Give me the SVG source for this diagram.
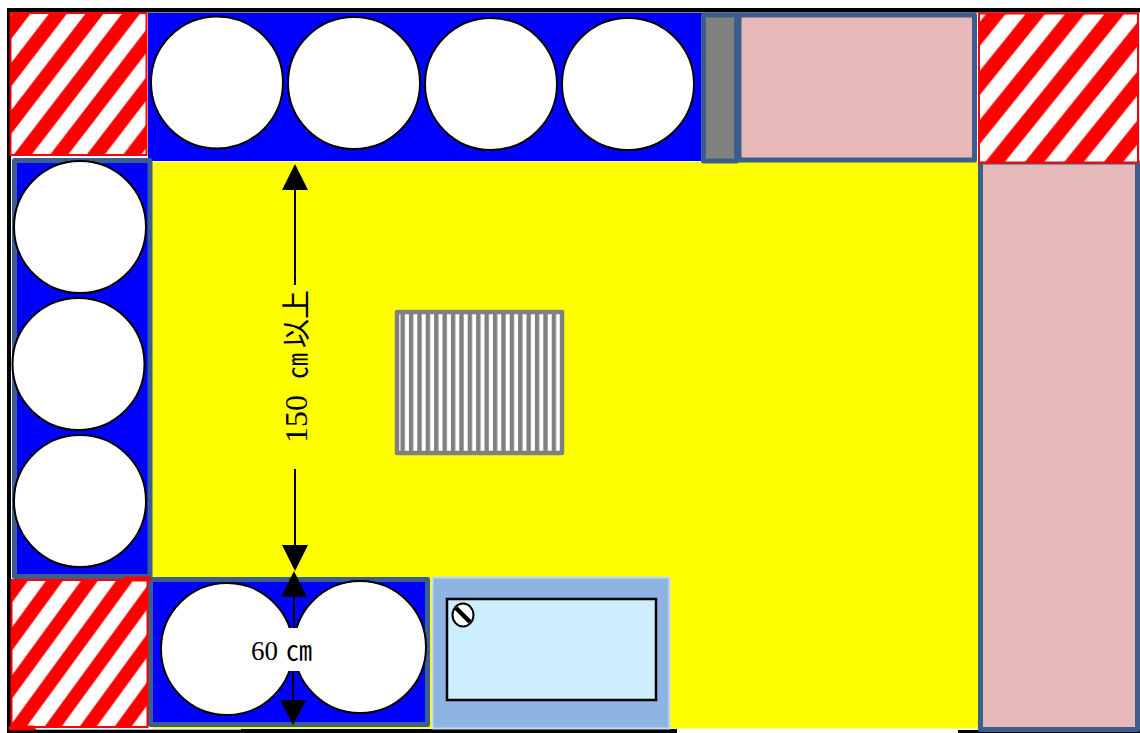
<svg xmlns="http://www.w3.org/2000/svg" width="1140" height="733" viewBox="0 0 1140 733">
<style>
.panel{stroke:#3b5e8c;stroke-width:5;stroke-linejoin:round}
.seat{fill:#fff;stroke:#000;stroke-width:2}
.hatch{stroke:#f00;stroke-width:2}
.dim{stroke:#000;stroke-width:2;fill:none}
.tip{fill:#000}
.lbl{font-family:"Liberation Serif","Noto Sans CJK JP",serif;fill:#000}
</style>
<defs>
<pattern id="h1" patternUnits="userSpaceOnUse" width="36.5" height="47.5"><rect width="36.5" height="47.5" fill="#f00"/><path d="M0 47.5L36.5 0H18L-18.500 47.5ZM36.5 47.5L73 0H54.500L18 47.5Z" fill="#fff"/></pattern>
<pattern id="h2" patternUnits="userSpaceOnUse" width="39.5" height="49"><rect width="39.5" height="49" fill="#f00"/><path d="M0 49L39.5 0H19.500L-20 49ZM39.5 49L79 0H59L19.500 49Z" fill="#fff"/></pattern>
<pattern id="h3" patternUnits="userSpaceOnUse" width="35" height="48"><rect width="35" height="48" fill="#f00"/><path d="M0 48L35 0H17L-18 48ZM35 48L70 0H52L17 48Z" fill="#fff"/></pattern>
<pattern id="gr" patternUnits="userSpaceOnUse" x="400.5" y="311" width="8.4" height="20"><rect width="8.4" height="20" fill="#fff"/><rect x="0" width="4.400" height="20" fill="#808080"/></pattern>
</defs>
<rect id="page" width="1140" height="733" fill="#fff"/>
<g id="walls">
<rect x="7" y="8" width="1133" height="4.500" fill="#000"/>
<rect x="7" y="8" width="4" height="725" fill="#000"/>
<rect x="7" y="729" width="670" height="4" fill="#000"/>
<rect x="958" y="730" width="182" height="3" fill="#000"/>
<rect x="36" y="728.500" width="205" height="1.200" fill="#fff"/>
</g>
<g id="floor"><rect x="152" y="162" width="826" height="566.500" fill="#ff0"/></g>
<g id="top-bench">
<rect x="148" y="13" width="554" height="148" fill="#00f"/>
<circle class="seat" cx="217" cy="82.500" r="66"/>
<circle class="seat" cx="354" cy="83" r="66"/>
<circle class="seat" cx="491" cy="84" r="66"/>
<circle class="seat" cx="628" cy="84" r="66"/>
</g>
<g id="left-bench">
<rect class="panel" x="14.500" y="160.500" width="135.500" height="416" fill="#00f"/>
<circle class="seat" cx="80" cy="227" r="66"/>
<circle class="seat" cx="78.500" cy="364" r="66"/>
<circle class="seat" cx="80" cy="501" r="66"/>
</g>
<g id="bottom-bench">
<rect class="panel" x="150.500" y="579.500" width="277" height="145" fill="#00f"/>
<circle class="seat" cx="227" cy="649" r="66"/>
<circle class="seat" cx="360" cy="647" r="66"/>
</g>
<g id="cupboard"><rect class="panel" x="703.500" y="15" width="33" height="146" fill="#808080"/></g>
<g id="top-counter"><rect class="panel" x="739" y="15" width="235.500" height="145" fill="#e6b8b7"/></g>
<g id="right-counter"><rect class="panel" x="980.500" y="162" width="157" height="567.500" fill="#e6b8b7"/></g>
<g id="sink">
<rect x="432.500" y="577.500" width="237" height="151" fill="#8eb4e3" stroke="#c6d9f1" stroke-width="2"/>
<rect x="447" y="599" width="209" height="101" fill="#cceeff" stroke="#000" stroke-width="2.500"/>
<ellipse cx="463" cy="615" rx="10.500" ry="11.500" fill="#fff" stroke="#000" stroke-width="2"/>
<path d="M456 608L470 622" stroke="#000" stroke-width="4.500"/>
</g>
<g id="drain"><rect x="397" y="312" width="165" height="141" fill="url(#gr)" stroke="#808080" stroke-width="4.500" stroke-linejoin="round"/></g>
<g id="hatch-top-left"><rect class="hatch" x="-2.500" y="0" width="136" height="142" transform="translate(13 13)" fill="url(#h1)"/></g>
<g id="hatch-top-right"><rect class="hatch" x="-7.500" y="0" width="159" height="149" transform="translate(986.500 13.500)" fill="url(#h2)"/></g>
<g id="hatch-bottom-left">
<rect class="hatch" x="0" y="0" width="136" height="147" transform="translate(11.500 580)" fill="url(#h3)"/>
<path d="M125 579H149M11 728H33" stroke="#f00" stroke-width="5" stroke-linecap="round"/>
</g>
<g id="connectors">
<path class="dim" d="M295 188V285M295 469V547"/>
<path class="tip" d="M295 164L282 190H308ZM295 571L282 545H308Z"/>
<path class="dim" d="M294 595V628M293 671V702"/>
<path class="tip" d="M294 571L281 597H307ZM293 725L280 700H306Z"/>
</g>
<g id="labels">
<rect x="250" y="628" width="62" height="43" fill="#fff"/>
<text class="lbl" y="660" font-size="27"><tspan x="251">60 </tspan><tspan x="286" font-size="26">㎝</tspan></text>
<text class="lbl" font-size="29" transform="translate(307 443) rotate(-90)"><tspan font-size="32">150 </tspan><tspan x="64" font-size="26">㎝</tspan><tspan x="95">以</tspan><tspan x="124">上</tspan></text>
</g>
</svg>
